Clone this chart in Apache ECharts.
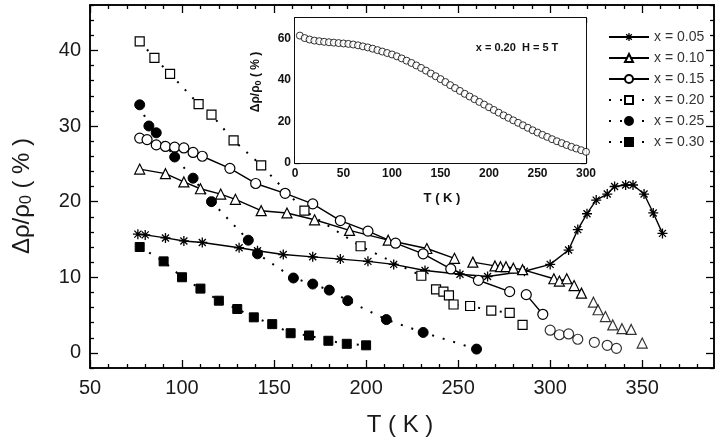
<!DOCTYPE html>
<html>
<head>
<meta charset="utf-8">
<script src="https://cdn.jsdelivr.net/npm/echarts@6/dist/echarts.min.js"></script>
<style>
  html, body { margin: 0; padding: 0; background: #fff; }
  #chart { width: 721px; height: 441px; }
</style>
</head>
<body>
<div id="chart"></div>
<script>
// main panel: delta rho / rho0 (%) vs T (K), one series per x
const t005 = [76, 80, 91, 101, 111, 131, 141, 155, 171, 186, 201, 215, 232, 251, 266, 286, 300, 310, 315, 320, 325, 331, 335, 341, 345, 351, 356, 361];
const r005 = [15.7, 15.6, 15.2, 14.8, 14.6, 13.9, 13.5, 13.0, 12.7, 12.4, 12.1, 11.7, 10.9, 10.4, 10.1, 10.8, 11.7, 13.6, 16.3, 18.4, 20.2, 21.0, 22.0, 22.2, 22.2, 21.0, 18.5, 15.8];

const t010 = [77, 91, 101, 110, 121, 129, 143, 157, 172, 191, 212, 233, 248, 252, 258, 270, 273, 276, 280, 285, 302, 305, 309, 313, 317];
const r010 = [24.3, 23.7, 22.6, 21.7, 21.0, 20.3, 18.8, 18.5, 17.6, 16.2, 14.9, 13.8, 12.5, null, 12.0, 11.5, 11.4, 11.4, 11.2, 11.0, 9.8, 9.5, 9.8, 8.9, 7.9];
const t010tail = [323.5, 326, 330, 334, 339, 344, 350];
const r010tail = [6.7, 5.7, 4.8, 3.7, 3.2, 3.1, 1.3];

const t015 = [77, 81, 86, 91, 96, 101, 106, 111, 126, 140, 156, 171, 186, 201, 216, 231, 246, 261, 278, 282, 287, 296];
const r015 = [28.4, 28.2, 27.5, 27.3, 27.2, 27.1, 26.5, 26.0, 24.4, 22.4, 21.1, 19.7, 17.5, 16.1, 14.5, 13.1, 11.1, 9.6, 8.1, null, 7.7, 5.1];
const t015tail = [300, 305, 310, 315, 324, 331, 336];
const r015tail = [3.0, 2.4, 2.5, 1.8, 1.4, 1.0, 0.6];

const t020 = [77, 85, 93.5, 109, 116, 128, 143, 166.5, 197, 230, 238, 242, 245, 247.5, 256.5, 268, 278, 285];
const r020 = [41.2, 39.0, 36.9, 32.9, 31.5, 28.1, 24.8, 18.8, 14.1, 10.2, 8.4, 8.1, 7.6, 6.4, 6.2, 5.6, 5.3, 3.7];

const t025 = [77, 82, 86, 96, 106, 116, 136, 141, 160.5, 171, 180, 190, 211, 231, 260];
const r025 = [32.8, 30.0, 29.1, 25.9, 23.1, 20.0, 14.9, 13.1, 9.9, 9.1, 8.3, 6.9, 4.4, 2.7, 0.5];

const t030 = [77, 90, 100, 110, 120, 130, 139, 149, 159, 169, 179.5, 189.5, 200];
const r030 = [14.0, 12.1, 10.0, 8.5, 6.9, 5.8, 4.7, 3.8, 2.6, 2.3, 1.6, 1.2, 1.0];

// inset: x = 0.20, H = 5 T
const tIn = [5, 10, 15, 20, 25, 30, 35, 40, 45, 50, 55, 60, 65, 70, 75, 80, 85, 90, 95, 100,
  105, 110, 115, 120, 125, 130, 135, 140, 145, 150, 155, 160, 165, 170, 175, 180, 185, 190, 195, 200,
  205, 210, 215, 220, 225, 230, 235, 240, 245, 250, 255, 260, 265, 270, 275, 280, 285, 290, 295, 300];
const rIn = [61.5, 60.3, 59.6, 59.1, 58.8, 58.5, 58.3, 58.1, 57.9, 57.7, 57.5, 57.2, 56.8, 56.3, 55.8, 55.2, 54.5, 53.8, 53.1, 52.4,
  51.5, 50.5, 49.4, 48.3, 47.1, 45.9, 44.6, 43.2, 41.9, 40.5, 39.1, 37.6, 36.2, 34.8, 33.4, 32.1, 30.8, 29.5, 28.2, 26.9,
  25.6, 24.3, 23.0, 21.8, 20.6, 19.4, 18.2, 17.0, 15.8, 14.7, 13.6, 12.6, 11.5, 10.5, 9.6, 8.7, 7.8, 7.0, 6.2, 5.4];

const xLabels = [50, 100, 150, 200, 250, 300, 350];
const yLabels = [0, 10, 20, 30, 40];
const legendNames = ['x = 0.05', 'x = 0.10', 'x = 0.15', 'x = 0.20', 'x = 0.25', 'x = 0.30'];

const FONT = '"Liberation Sans", Arial, sans-serif';

function pairs(ts, vs) {
  return ts.map((t, i) => [t, vs[i] == null ? '-' : vs[i]]);
}

function steps(from, to, step, skip) {
  const out = [];
  for (let v = from; v <= to + 1e-9; v += step) {
    if (!skip || Math.round(v) % skip !== 0) out.push(v);
  }
  return out;
}

function frameAxis(grid, pos, min, max, ticks, len, labels, labelStyle) {
  return {
    type: 'value', gridIndex: grid, position: pos, min: min, max: max,
    axisLine: { show: true, onZero: false, lineStyle: { color: '#000', width: 1.5 } },
    axisTick: { show: true, inside: true, length: len, customValues: ticks, lineStyle: { color: '#000', width: 1.3 } },
    axisLabel: labels ? Object.assign({ show: true, customValues: labels, fontFamily: FONT, color: '#1a1a1a' }, labelStyle) : { show: false },
    splitLine: { show: false }
  };
}

const xMin = 50, xMax = 389, yMin = -2, yMax = 46;
const xMajor = steps(50, 350, 50), xMinor = steps(60, 380, 10, 50);
const yMajor = steps(0, 40, 10), yMinor = steps(-2, 46, 2, 10);

const xAxes = [
  frameAxis(0, 'bottom', xMin, xMax, xMajor, 8, xLabels, { fontSize: 20, margin: 10 }),
  frameAxis(0, 'bottom', xMin, xMax, xMinor, 4),
  frameAxis(0, 'top', xMin, xMax, xMajor, 8),
  frameAxis(0, 'top', xMin, xMax, xMinor, 4),
  frameAxis(1, 'bottom', 0, 300, steps(0, 300, 50), 5, steps(0, 300, 50), { fontSize: 12, fontWeight: 'bold', margin: 5, color: '#111' }),
  frameAxis(1, 'bottom', 0, 300, steps(10, 290, 10, 50), 3),
  frameAxis(1, 'top', 0, 300, steps(0, 300, 50), 5),
  frameAxis(1, 'top', 0, 300, steps(10, 290, 10, 50), 3)
];
const yAxes = [
  frameAxis(0, 'left', yMin, yMax, yMajor, 8, yLabels, { fontSize: 20, margin: 9 }),
  frameAxis(0, 'left', yMin, yMax, yMinor, 4),
  frameAxis(0, 'right', yMin, yMax, yMajor, 8),
  frameAxis(0, 'right', yMin, yMax, yMinor, 4),
  frameAxis(1, 'left', 0, 70, [0, 20, 40, 60], 5, [0, 20, 40, 60], { fontSize: 12, fontWeight: 'bold', margin: 4, color: '#111' }),
  frameAxis(1, 'left', 0, 70, [10, 30, 50, 70], 3),
  frameAxis(1, 'right', 0, 70, [0, 20, 40, 60], 5),
  frameAxis(1, 'right', 0, 70, [10, 30, 50, 70], 3)
];

const openStyle = { color: '#fff', borderColor: '#000', borderWidth: 1.2 };
const fillStyle = { color: '#000', borderColor: '#000', borderWidth: 1 };
const starStyle = { color: 'none', borderColor: '#000', borderWidth: 1.3 };
const solid = { color: '#000', width: 1.4, type: 'solid' };
const dotted = { color: '#000', width: 2, type: [2, 9] };
const STAR = 'path://M0,5L10,5M5,0L5,10M1.5,1.5L8.5,8.5M1.5,8.5L8.5,1.5';

function lineSeries(name, data, symbol, size, itemStyle, lineStyle) {
  return {
    name: name, type: 'line', xAxisIndex: 0, yAxisIndex: 0, data: data,
    symbol: symbol, symbolSize: size, showAllSymbol: true, connectNulls: false,
    itemStyle: itemStyle, lineStyle: lineStyle, animation: false, z: 3
  };
}

function tailSeries(name, data, symbol, size, itemStyle) {
  return {
    name: name, type: 'scatter', xAxisIndex: 0, yAxisIndex: 0, data: data,
    symbol: symbol, symbolSize: size, itemStyle: itemStyle, animation: false, z: 3
  };
}

const chart = echarts.init(document.getElementById('chart'), null, { renderer: 'canvas' });

chart.setOption({
  backgroundColor: '#fff',
  animation: false,
  grid: [
    { left: 90, top: 5, right: 7, bottom: 73, show: false },
    { left: 295, top: 18, width: 291, height: 145, show: true, backgroundColor: '#fff', borderWidth: 0, z: 1 }
  ],
  xAxis: xAxes,
  yAxis: yAxes,
  legend: {
    data: legendNames.map((n, i) => i === 0
      ? { name: n, itemStyle: { color: 'none', borderColor: '#000', borderWidth: 1.3 } }
      : n),
    orient: 'vertical',
    left: 603, top: 25,
    itemWidth: 40, itemHeight: 10, itemGap: 7,
    textStyle: { fontFamily: FONT, fontSize: 14, color: '#333' },
    selectedMode: false
  },
  series: [
    lineSeries(legendNames[0], pairs(t005, r005), STAR, 10, starStyle, solid),
    lineSeries(legendNames[1], pairs(t010, r010), 'triangle', 10, openStyle, solid),
    tailSeries('x = 0.10 tail', pairs(t010tail, r010tail), 'triangle', 10, openStyle),
    lineSeries(legendNames[2], pairs(t015, r015), 'circle', 10, openStyle, solid),
    tailSeries('x = 0.15 tail', pairs(t015tail, r015tail), 'circle', 10, openStyle),
    lineSeries(legendNames[3], pairs(t020, r020), 'rect', 9, openStyle, dotted),
    lineSeries(legendNames[4], pairs(t025, r025), 'circle', 10, fillStyle, dotted),
    lineSeries(legendNames[5], pairs(t030, r030), 'rect', 9, fillStyle, dotted),
    {
      name: 'inset', type: 'scatter', xAxisIndex: 4, yAxisIndex: 4,
      data: pairs(tIn, rIn), symbol: 'circle', symbolSize: 7,
      itemStyle: { color: '#fff', borderColor: '#000', borderWidth: 1 }, z: 5
    }
  ],
  graphic: [
    {
      type: 'text', x: 22, y: 196, rotation: Math.PI / 2,
      style: {
        text: '{a|Δρ/ρ}{s|0}{a| ( % )}',
        align: 'center', verticalAlign: 'middle',
        rich: {
          a: { fontFamily: FONT, fontSize: 24, fill: '#1a1a1a' },
          s: { fontFamily: FONT, fontSize: 16, fill: '#1a1a1a', padding: [10, 0, 0, 0] }
        }
      }
    },
    {
      type: 'text', x: 400, y: 425,
      style: { text: 'T ( K )', fontFamily: FONT, fontSize: 24, fill: '#1a1a1a', align: 'center', verticalAlign: 'middle' }
    },
    {
      type: 'text', x: 256, y: 82, rotation: Math.PI / 2, z: 10,
      style: {
        text: '{a|Δρ/ρ}{s|0}{a| ( % )}',
        align: 'center', verticalAlign: 'middle',
        rich: {
          a: { fontFamily: FONT, fontSize: 12, fontWeight: 'bold', fill: '#111' },
          s: { fontFamily: FONT, fontSize: 9, fontWeight: 'bold', fill: '#111', padding: [5, 0, 0, 0] }
        }
      }
    },
    {
      type: 'text', x: 442, y: 198, z: 10,
      style: { text: 'T ( K )', fontFamily: FONT, fontSize: 13, fontWeight: 'bold', fill: '#111', align: 'center', verticalAlign: 'middle' }
    },
    {
      type: 'text', x: 517, y: 48, z: 10,
      style: { text: 'x = 0.20  H = 5 T', fontFamily: FONT, fontSize: 11, fontWeight: 'bold', fill: '#111', align: 'center', verticalAlign: 'middle' }
    }
  ]
});
</script>
</body>
</html>
